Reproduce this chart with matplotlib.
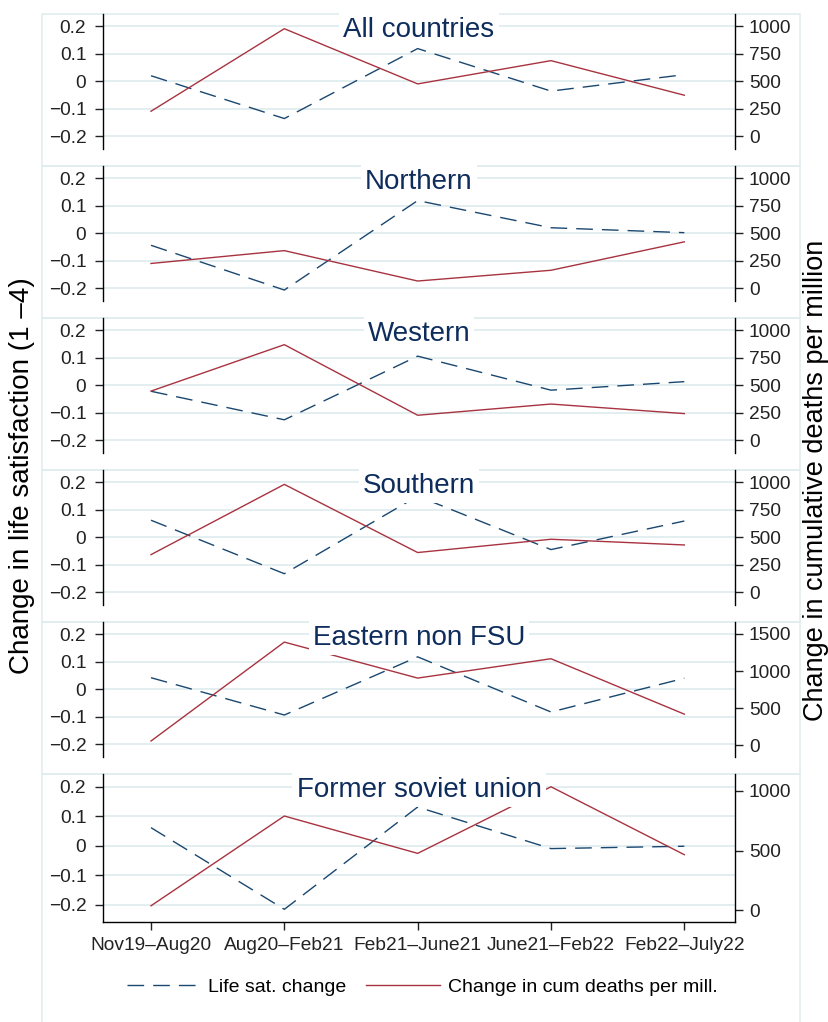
import matplotlib
matplotlib.use("Agg")
import matplotlib.pyplot as plt
from matplotlib.lines import Line2D
from matplotlib.patches import Rectangle

plt.rcParams["font.family"] = ["Liberation Sans", "DejaVu Sans"]

periods = ["Nov19–Aug20", "Aug20–Feb21", "Feb21–June21", "June21–Feb22", "Feb22–July22"]
regions = ["All countries", "Northern", "Western", "Southern", "Eastern non FSU",
           "Former soviet union"]

# change in life satisfaction (left axis)
ls_all = [0.020, -0.136, 0.119, -0.036, 0.024]
ls_north = [-0.044, -0.207, 0.119, 0.020, 0.002]
ls_west = [-0.022, -0.126, 0.106, -0.018, 0.013]
ls_south = [0.062, -0.133, 0.150, -0.045, 0.059]
ls_east = [0.042, -0.094, 0.118, -0.083, 0.040]
ls_fsu = [0.061, -0.216, 0.131, -0.010, -0.002]

# change in cumulative deaths per million (right axis)
deaths_all = [227, 979, 476, 688, 373]
deaths_north = [225, 342, 65, 163, 422]
deaths_west = [447, 870, 227, 329, 242]
deaths_south = [342, 982, 361, 482, 430]
deaths_east = [60, 1390, 906, 1166, 421]
deaths_fsu = [37, 789, 476, 1034, 465]

ls_series = [ls_all, ls_north, ls_west, ls_south, ls_east, ls_fsu]
death_series = [deaths_all, deaths_north, deaths_west, deaths_south, deaths_east, deaths_fsu]
right_ticks = [[0, 250, 500, 750, 1000]] * 4 + [[0, 500, 1000, 1500], [0, 500, 1000]]
right_lims = [(-117, 1113)] * 4 + [(-155, 1660), (-99, 1141)]
left_lims = [(-0.247, 0.245)] * 5 + [(-0.259, 0.243)]

W, H = 829, 1022
NAVY = "#1A476F"
MAROON = "#A83340"
GRID = "#E1EDEF"
TITLE = "#0E2D5C"

fig = plt.figure(figsize=(W / 100, H / 100), dpi=100)

tops = [14, 166, 318, 470, 622, 774]
heights = [135, 135, 135, 135, 135, 148]

for i, name in enumerate(regions):
    top = tops[i]
    h = heights[i]
    box_bottom = tops[i + 1] if i < 5 else H + 5
    fig.add_artist(Rectangle((42 / W, 1 - box_bottom / H), 758 / W, (box_bottom - top) / H,
                             transform=fig.transFigure, fill=False, ec=GRID, lw=1.2, zorder=0))

    ax = fig.add_axes([103 / W, 1 - (top + h) / H, 632 / W, h / H])
    ax2 = ax.twinx()
    ax.patch.set_visible(False)

    x = range(len(periods))
    ax.plot(x, ls_series[i], color=NAVY, lw=1.0, dashes=(12, 6.5))
    ax2.plot(x, death_series[i], color=MAROON, lw=1.0)

    ax.set_xlim(-0.36, 4.38)
    ax.set_ylim(*left_lims[i])
    ax2.set_ylim(*right_lims[i])

    lt = [-0.2, -0.1, 0, 0.1, 0.2]
    ax.set_yticks(lt)
    ax.set_yticklabels([("%g" % v).replace("-", "−") for v in lt])
    ax.grid(axis="y", color=GRID, lw=1.3)
    ax.set_axisbelow(True)
    ax2.set_yticks(right_ticks[i])
    ax2.set_yticklabels([str(v) for v in right_ticks[i]])

    ax.tick_params(axis="y", length=6, width=1, pad=6, labelsize=13.8, colors="#222222")
    ax2.tick_params(axis="y", length=6, width=1, pad=4, labelsize=13.8, colors="#222222")
    for side in ["top", "right"]:
        ax.spines[side].set_visible(False)
    for side in ["top", "left", "bottom"]:
        ax2.spines[side].set_visible(False)
    ax.spines["left"].set_linewidth(1)
    ax2.spines["right"].set_linewidth(1)

    if i < 5:
        ax.spines["bottom"].set_visible(False)
        ax.set_xticks([])
    else:
        ax.set_xticks(list(x))
        ax.set_xticklabels(periods)
        ax.tick_params(axis="x", length=6, width=1, pad=5, labelsize=13.8, colors="#222222")
        ax.spines["bottom"].set_linewidth(1)

    ax2.text(419 / W, 1 - (top + 23) / H, name, transform=fig.transFigure,
             ha="center", va="baseline", fontsize=20, color=TITLE, zorder=10,
             bbox=dict(fc="white", ec="none", pad=3))

fig.text(22 / W, 1 - 476 / H, "Change in life satisfaction (1 –4)", rotation=90,
         ha="center", va="center", fontsize=20)
fig.text(816 / W, 1 - 480 / H, "Change in cumulative deaths per million", rotation=90,
         ha="center", va="center", fontsize=19.5)

handles = [Line2D([], [], color=NAVY, lw=1.0, dashes=(12, 6.5)),
           Line2D([], [], color=MAROON, lw=1.0)]
fig.legend(handles, ["Life sat. change", "Change in cum deaths per mill."],
           loc="center", bbox_to_anchor=(422 / W, 1 - 987 / H), ncol=2, frameon=False,
           fontsize=14, handlelength=3.8, handletextpad=0.4, columnspacing=1.0)

fig.savefig("out.png", dpi=100, facecolor="white")
